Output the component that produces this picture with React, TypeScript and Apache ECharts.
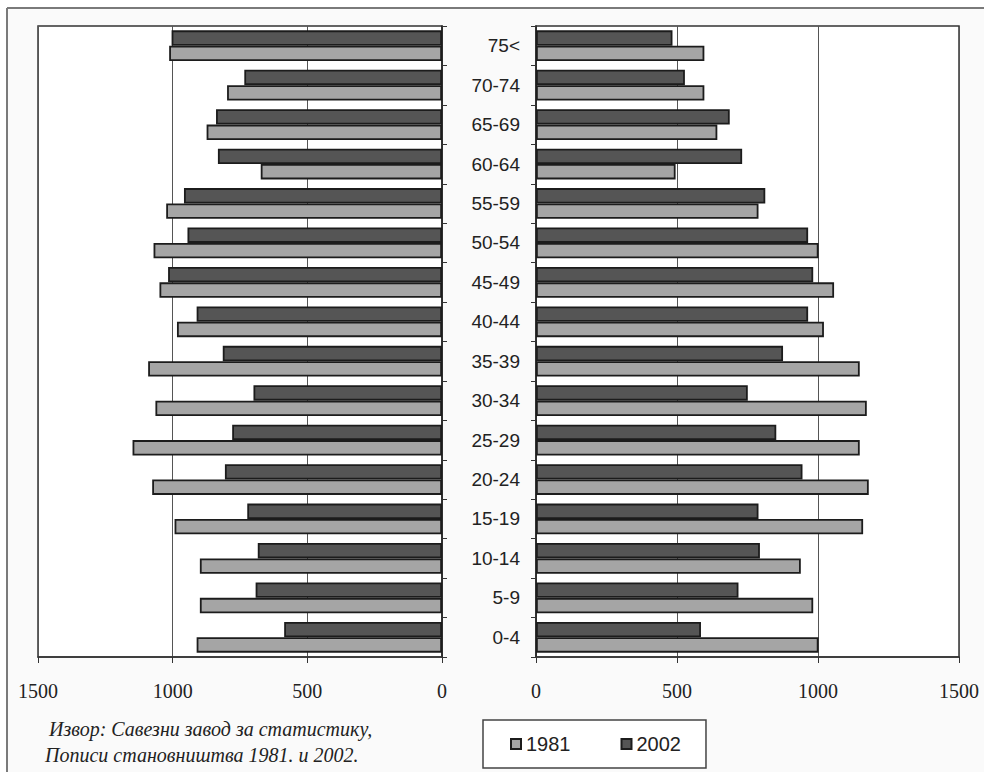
import React, { useEffect, useRef } from 'react';
import * as echarts from 'echarts';

const categories = ['0-4', '5-9', '10-14', '15-19', '20-24', '25-29', '30-34', '35-39', '40-44', '45-49', '50-54', '55-59', '60-64', '65-69', '70-74', '75<'];
const left1981 = [911, 899, 899, 993, 1076, 1149, 1064, 1091, 984, 1049, 1071, 1024, 673, 874, 798, 1013];
const left2002 = [586, 692, 684, 723, 806, 779, 700, 814, 911, 1017, 945, 958, 832, 839, 734, 1004];
const right1981 = [1002, 983, 939, 1160, 1180, 1148, 1173, 1148, 1021, 1057, 1002, 789, 495, 643, 597, 597];
const right2002 = [585, 718, 794, 789, 945, 852, 751, 876, 965, 983, 965, 813, 731, 687, 528, 484];
const xMin = 0;
const xMax = 1500;
const xStep = 500;
const seriesNames = ['1981', '2002'];
const sourceLines = ['Извор: Савезни завод за статистику,', 'Пописи становништва 1981. и 2002.'];

const LIGHT = '#a5a5a5';
const DARK = '#555555';
const EDGE = '#1c1c1c';

export default function App() {
  const ref = useRef<HTMLDivElement>(null);
  useEffect(() => {
    const chart = echarts.init(ref.current!, null, { renderer: 'svg' });
    const xAxisCommon = (inverse: boolean, gridIndex: number) => ({
      type: 'value',
      gridIndex,
      inverse,
      min: xMin,
      max: xMax,
      interval: xStep,
      axisLine: { show: true, lineStyle: { color: '#333', width: 1.5 } },
      axisTick: { show: true, length: 6, lineStyle: { color: '#333' } },
      axisLabel: {
        show: true,
        margin: 24,
        fontFamily: 'Liberation Serif',
        fontSize: 20,
        color: '#222',
        showMinLabel: true,
        showMaxLabel: true,
        formatter: (v: number) => String(v),
      },
      splitLine: { show: true, lineStyle: { color: '#555', width: 1 } },
    });
    const bar = (name: string, data: number[], color: string, idx: number) => ({
      name,
      type: 'bar',
      xAxisIndex: idx,
      yAxisIndex: idx,
      data,
      barGap: '0%',
      barCategoryGap: '22%',
      itemStyle: { color, borderColor: EDGE, borderWidth: 1.8 },
    });
    const option = {
      animation: false,
      backgroundColor: '#fafafa',
      grid: [
        { left: 38, right: 542, top: 26, bottom: 115, show: true, backgroundColor: '#ffffff', borderColor: '#333', borderWidth: 1.5 },
        { left: 536, right: 25, top: 26, bottom: 115, show: true, backgroundColor: '#ffffff', borderColor: '#333', borderWidth: 1.5 },
      ],
      xAxis: [xAxisCommon(true, 0), xAxisCommon(false, 1)],
      yAxis: [
        {
          type: 'category',
          gridIndex: 0,
          position: 'right',
          data: categories,
          axisLine: { show: true, lineStyle: { color: '#222', width: 1.5 } },
          axisTick: { show: true, length: 5, lineStyle: { color: '#333' } },
          axisLabel: { show: false },
        },
        {
          type: 'category',
          gridIndex: 1,
          position: 'left',
          data: categories,
          axisLine: { show: true, lineStyle: { color: '#222', width: 1.5 } },
          axisTick: { show: true, length: 5, lineStyle: { color: '#333' } },
          axisLabel: { show: true, margin: 16, fontFamily: 'Liberation Sans', fontSize: 19, color: '#222' },
        },
      ],
      legend: {
        data: seriesNames,
        icon: 'rect',
        left: 483,
        top: 720,
        orient: 'horizontal',
        itemWidth: 10,
        itemHeight: 10,
        itemGap: 50,
        padding: [14, 25, 14, 27],
        borderColor: '#444',
        borderWidth: 1.5,
        backgroundColor: '#ffffff',
        textStyle: { fontFamily: 'Liberation Sans', fontSize: 20, color: '#222' },
      },
      graphic: [
        { type: 'rect', silent: true, shape: { x: 0, y: 0, width: 984, height: 8 }, style: { fill: '#ffffff' } },
        { type: 'rect', silent: true, shape: { x: 0, y: 0, width: 7, height: 772 }, style: { fill: '#ffffff' } },
        { type: 'line', silent: true, shape: { x1: 7, y1: 8, x2: 984, y2: 8 }, style: { stroke: '#7a7a7a', lineWidth: 2 } },
        { type: 'line', silent: true, shape: { x1: 7, y1: 8, x2: 7, y2: 772 }, style: { stroke: '#7a7a7a', lineWidth: 2 } },
        {
          type: 'text',
          silent: true,
          style: { text: sourceLines[0], x: 49, y: 729, font: 'italic 20px "Liberation Serif"', fill: '#222', verticalAlign: 'middle' },
        },
        {
          type: 'text',
          silent: true,
          style: { text: sourceLines[1], x: 45, y: 755, font: 'italic 20px "Liberation Serif"', fill: '#222', verticalAlign: 'middle' },
        },
      ],
      series: [
        bar(seriesNames[1], left2002, DARK, 0),
        bar(seriesNames[0], left1981, LIGHT, 0),
        bar(seriesNames[1], right2002, DARK, 1),
        bar(seriesNames[0], right1981, LIGHT, 1),
      ],
    };
    chart.setOption(option as any);
    return () => chart.dispose();
  }, []);
  return <div ref={ref} style={{ position: 'absolute', left: 0, top: 0, width: 984, height: 772 }} />;
}
